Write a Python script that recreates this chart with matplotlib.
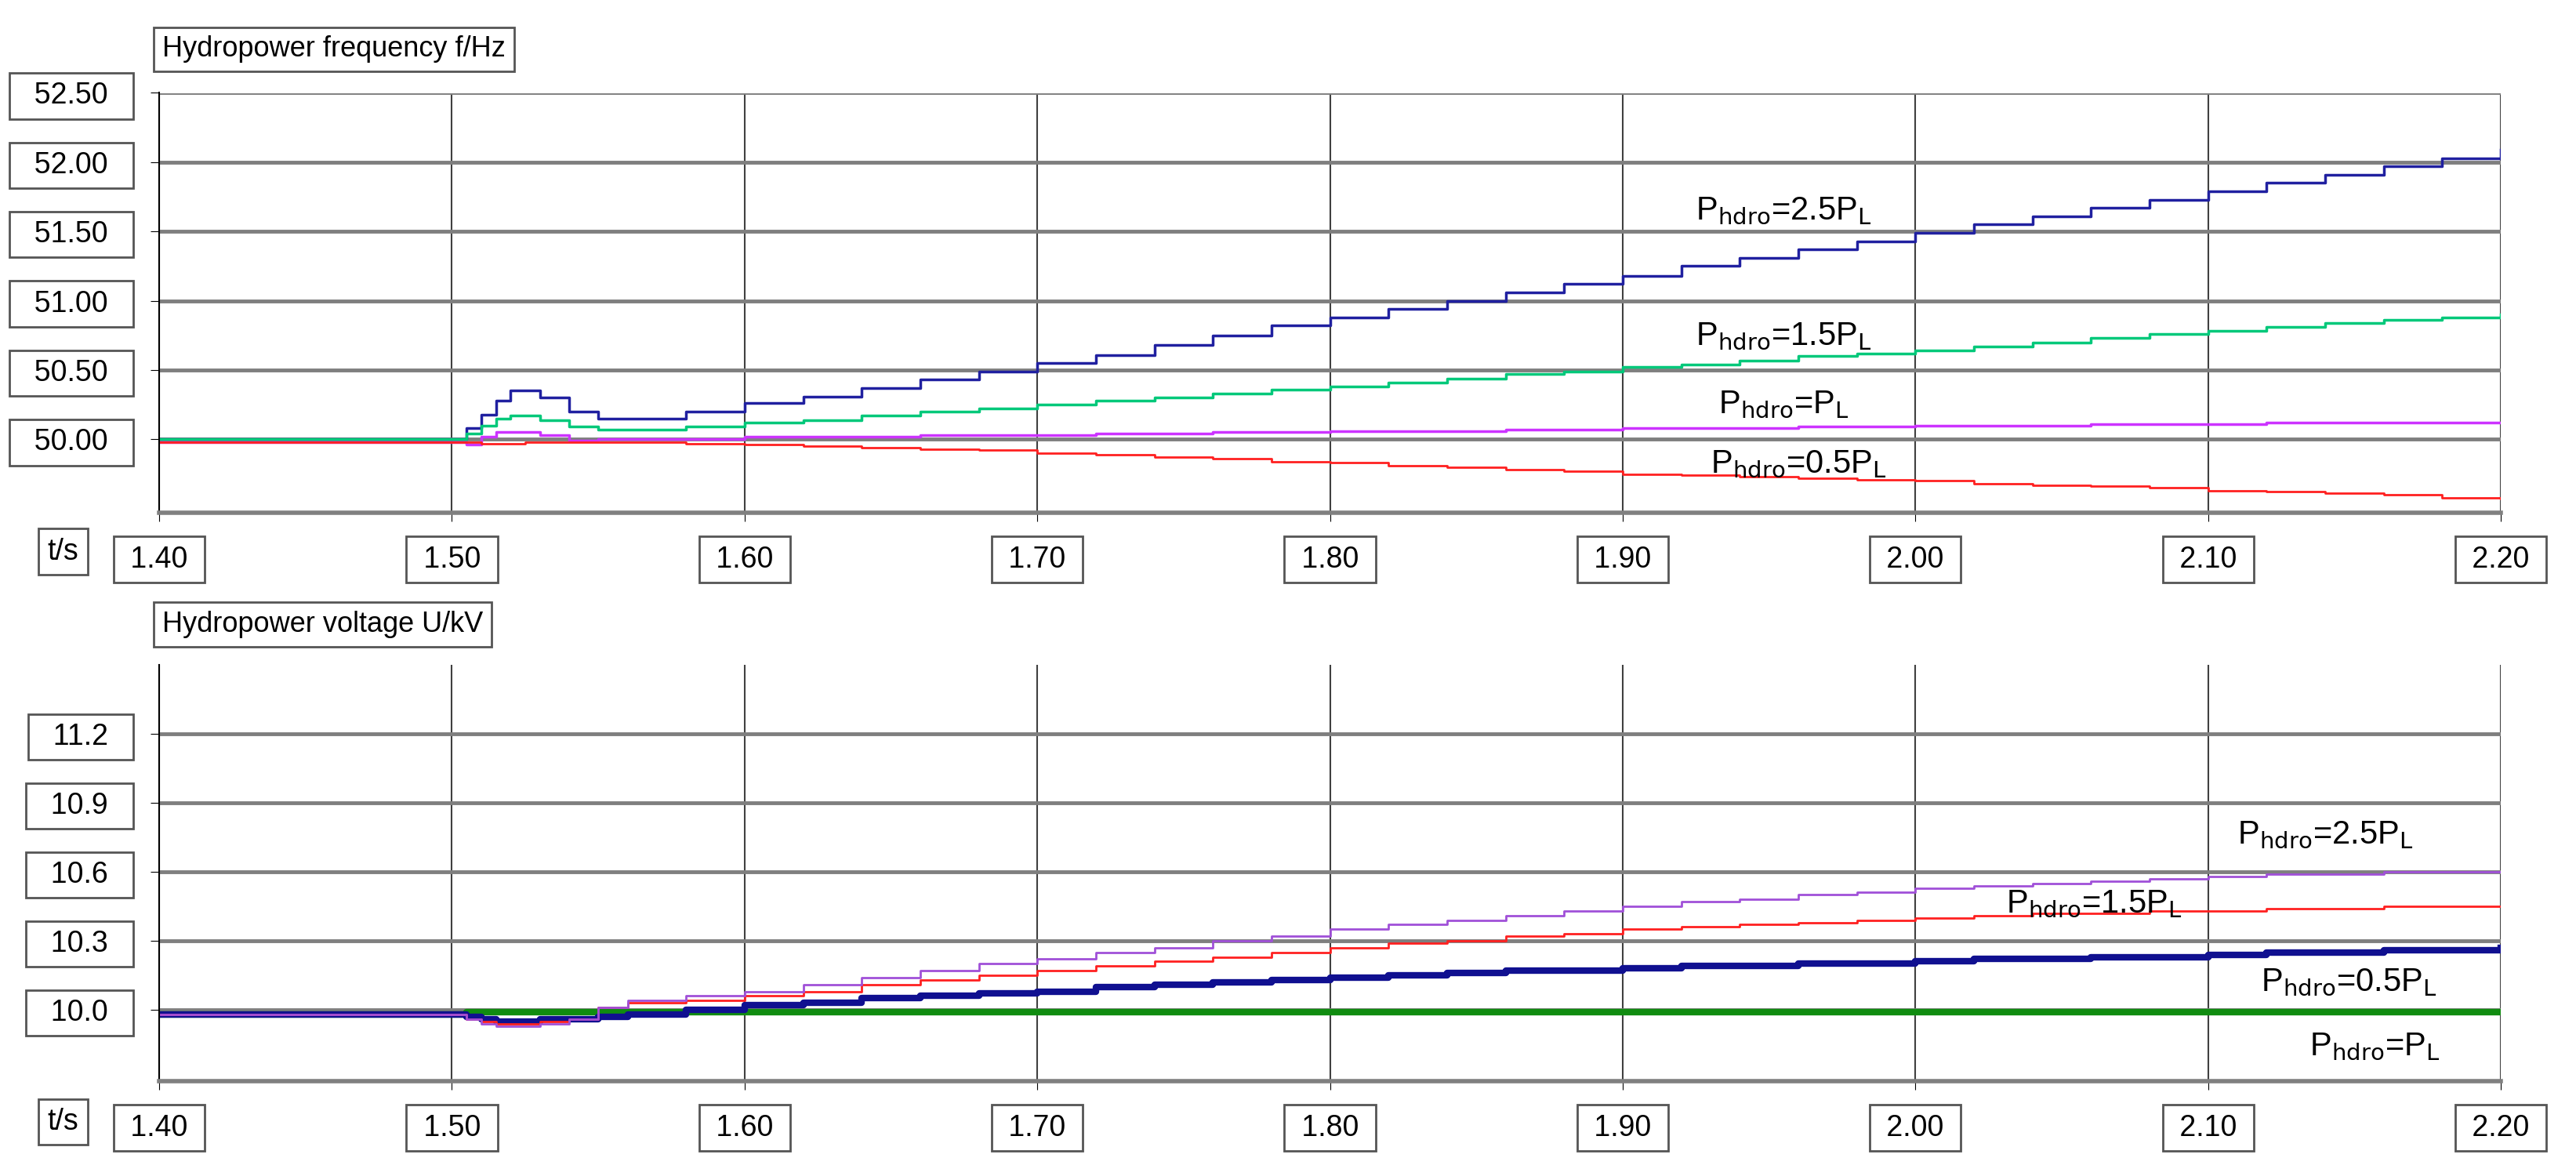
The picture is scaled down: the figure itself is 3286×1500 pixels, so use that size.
import numpy as np
import matplotlib.pyplot as plt

# time samples (s)
t = [1.40, 1.50, 1.505, 1.51, 1.515, 1.52, 1.525, 1.53, 1.54, 1.55, 1.56, 1.58, 1.60, 1.62, 1.64,
     1.66, 1.68, 1.70, 1.72, 1.74, 1.76, 1.78, 1.80, 1.82, 1.84, 1.86, 1.88, 1.90, 1.92,
     1.94, 1.96, 1.98, 2.00, 2.02, 2.04, 2.06, 2.08, 2.10, 2.12, 2.14, 2.16, 2.18, 2.20]

# frequency (Hz)
f_25 = [50.00, 50.00, 50.08, 50.18, 50.28, 50.35, 50.35, 50.30, 50.20, 50.15, 50.15, 50.20, 50.26, 50.31, 50.37,
        50.43, 50.49, 50.55, 50.61, 50.68, 50.75, 50.82, 50.88, 50.94, 51.00, 51.06, 51.12, 51.18, 51.25,
        51.31, 51.37, 51.43, 51.49, 51.55, 51.61, 51.67, 51.73, 51.79, 51.85, 51.91, 51.97, 52.03, 52.09]
f_15 = [50.00, 50.00, 50.04, 50.10, 50.15, 50.17, 50.17, 50.14, 50.09, 50.07, 50.07, 50.09, 50.12, 50.14, 50.17,
        50.20, 50.22, 50.25, 50.28, 50.30, 50.33, 50.36, 50.38, 50.41, 50.44, 50.47, 50.49, 50.52, 50.54,
        50.57, 50.60, 50.62, 50.64, 50.67, 50.70, 50.73, 50.76, 50.78, 50.81, 50.84, 50.86, 50.88, 50.90]
f_10 = [49.98, 49.98, 49.96, 50.02, 50.05, 50.05, 50.05, 50.03, 49.99, 50.00, 50.00, 50.00, 50.02, 50.02, 50.02,
        50.03, 50.03, 50.03, 50.04, 50.04, 50.05, 50.05, 50.06, 50.06, 50.06, 50.07, 50.07, 50.08, 50.08,
        50.08, 50.09, 50.09, 50.10, 50.10, 50.10, 50.11, 50.11, 50.11, 50.12, 50.12, 50.12, 50.12, 50.12]
f_05 = [49.98, 49.98, 49.98, 49.97, 49.97, 49.97, 49.98, 49.98, 49.98, 49.98, 49.98, 49.97, 49.96, 49.95, 49.94,
        49.93, 49.92, 49.90, 49.89, 49.87, 49.86, 49.84, 49.83, 49.81, 49.80, 49.78, 49.77, 49.75, 49.74,
        49.73, 49.72, 49.71, 49.70, 49.68, 49.67, 49.66, 49.65, 49.63, 49.62, 49.61, 49.60, 49.58, 49.57]

# voltage (kV)
u_25 = [9.98, 9.98, 9.96, 9.94, 9.93, 9.93, 9.93, 9.94, 9.96, 10.01, 10.04, 10.06, 10.08, 10.11, 10.14,
        10.17, 10.20, 10.22, 10.25, 10.27, 10.30, 10.32, 10.35, 10.37, 10.39, 10.41, 10.43, 10.45, 10.47,
        10.48, 10.50, 10.51, 10.53, 10.54, 10.55, 10.56, 10.57, 10.58, 10.59, 10.59, 10.60, 10.60, 10.60]
u_15 = [9.98, 9.98, 9.96, 9.95, 9.94, 9.94, 9.94, 9.95, 9.96, 10.01, 10.03, 10.04, 10.06, 10.08, 10.11,
        10.13, 10.15, 10.17, 10.19, 10.21, 10.23, 10.25, 10.27, 10.29, 10.30, 10.32, 10.33, 10.35, 10.36,
        10.37, 10.38, 10.39, 10.40, 10.41, 10.42, 10.42, 10.43, 10.43, 10.44, 10.44, 10.45, 10.45, 10.45]
u_05 = [9.98, 9.98, 9.97, 9.96, 9.95, 9.95, 9.95, 9.96, 9.96, 9.97, 9.98, 10.00, 10.02, 10.03, 10.05,
        10.06, 10.07, 10.08, 10.10, 10.11, 10.12, 10.13, 10.14, 10.15, 10.16, 10.17, 10.17, 10.18, 10.19,
        10.19, 10.20, 10.20, 10.21, 10.22, 10.22, 10.23, 10.23, 10.24, 10.25, 10.25, 10.26, 10.26, 10.27]
u_10 = [9.98, 9.98] + [9.99] * 41

x_ticks = [1.40, 1.50, 1.60, 1.70, 1.80, 1.90, 2.00, 2.10, 2.20]
f_ticks = [50.00, 50.50, 51.00, 51.50, 52.00, 52.50]
u_ticks = [10.0, 10.3, 10.6, 10.9, 11.2]

plt.rcParams['font.family'] = ['Liberation Sans', 'DejaVu Sans']
box = dict(boxstyle='square,pad=0.3', fc='white', ec='#555555', lw=2)
tbox = dict(boxstyle='square,pad=0.3', fc='white', ec='#555555', lw=2)

fig = plt.figure(figsize=(32.87, 15), dpi=100)
ax1 = fig.add_axes([0.0618, 0.564, 0.9087, 0.357])
ax2 = fig.add_axes([0.0618, 0.0807, 0.9087, 0.354])


def style(ax, yticks, fmt, ylim):
    ax.set_xlim(1.40, 2.20)
    ax.set_ylim(*ylim)
    ax.set_xticks(x_ticks)
    ax.set_xticklabels([' %.2f ' % v for v in x_ticks])
    ax.set_yticks(yticks)
    ax.set_yticklabels(['  %s  ' % (fmt % v) for v in yticks])
    for s in ['top', 'right']:
        ax.spines[s].set_visible(False)
    ax.spines['left'].set_linewidth(1.5)
    ax.spines['bottom'].set_color('#808080')
    ax.spines['bottom'].set_linewidth(4)
    ax.grid(axis='y', color='#7f7f7f', lw=3.5)
    ax.grid(axis='x', color='#404040', lw=1.5)
    ax.tick_params(labelsize=27, length=8, pad=24)
    ax.tick_params(axis='x', pad=22)
    for lbl in ax.get_xticklabels() + ax.get_yticklabels():
        lbl.set_bbox(box)
    ax.set_axisbelow(True)


ax1.plot(t, f_25, drawstyle='steps-post', color='#2020a0', lw=2.5)
ax1.plot(t, f_15, drawstyle='steps-post', color='#00c87a', lw=2.5)
ax1.plot(t, f_10, drawstyle='steps-post', color='#cc33ff', lw=2.5)
ax1.plot(t, f_05, drawstyle='steps-post', color='#ff2020', lw=2)
style(ax1, f_ticks, '%.2f', (49.47, 52.5))

ax2.plot(t, u_10, drawstyle='steps-post', color='#108c10', lw=6)
ax2.plot(t, u_05, drawstyle='steps-post', color='#101090', lw=6)
ax2.plot(t, u_15, drawstyle='steps-post', color='#ff2020', lw=2)
ax2.plot(t, u_25, drawstyle='steps-post', color='#a050d8', lw=2)
style(ax2, u_ticks, '%.1f', (9.69, 11.5))

lab = dict(fontsize=30, ha='center', va='center')
ax1.text(1.955, 51.65, r'P$_{\rm hdro}$=2.5P$_{\rm L}$', **lab)
ax1.text(1.955, 50.74, r'P$_{\rm hdro}$=1.5P$_{\rm L}$', **lab)
ax1.text(1.955, 50.25, r'P$_{\rm hdro}$=P$_{\rm L}$', **lab)
ax1.text(1.96, 49.82, r'P$_{\rm hdro}$=0.5P$_{\rm L}$', **lab)
ax2.text(2.14, 10.76, r'P$_{\rm hdro}$=2.5P$_{\rm L}$', **lab)
ax2.text(2.061, 10.46, r'P$_{\rm hdro}$=1.5P$_{\rm L}$', **lab)
ax2.text(2.148, 10.12, r'P$_{\rm hdro}$=0.5P$_{\rm L}$', **lab)
ax2.text(2.157, 9.84, r'P$_{\rm hdro}$=P$_{\rm L}$', **lab)

fig.text(0.063, 0.958, 'Hydropower frequency f/Hz', fontsize=26, va='center', bbox=tbox)
fig.text(0.063, 0.469, 'Hydropower voltage U/kV', fontsize=26, va='center', bbox=tbox)
fig.text(0.0245, 0.531, 't/s', fontsize=27, ha='center', va='center', bbox=tbox)
fig.text(0.0245, 0.046, 't/s', fontsize=27, ha='center', va='center', bbox=tbox)

fig.savefig('out.png', dpi=100, facecolor='white')
